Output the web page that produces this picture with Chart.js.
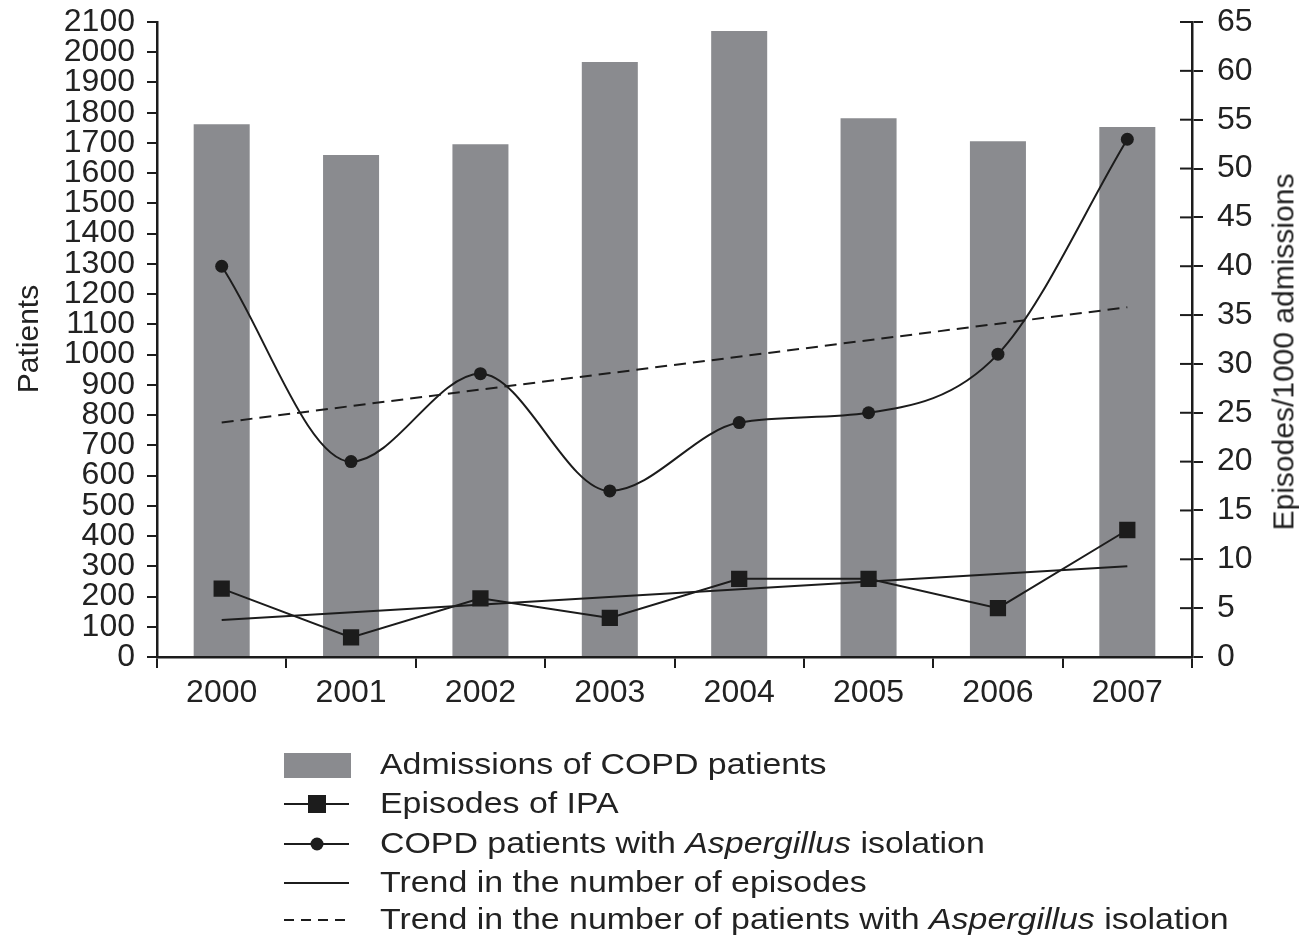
<!DOCTYPE html>
<html>
<head>
<meta charset="utf-8">
<script src="https://cdn.jsdelivr.net/npm/chart.js@4.4.1/dist/chart.umd.min.js"></script>
<style>
  body { margin: 0; background: #fff; }
  #wrap { position: relative; width: 1299px; height: 938px; font-family: 'Liberation Sans', Arial, sans-serif; color: #222; }
  canvas { position: absolute; left: 0; top: 0; }
  .ytitle { position: absolute; font-size: 30px; white-space: nowrap; transform-origin: center; }
  .leg { position: absolute; left: 380px; font-size: 30px; white-space: nowrap; transform: scaleX(1.13); transform-origin: left center; line-height: 30px; margin-top: -16px; }
  svg { position: absolute; left: 0; top: 0; }
</style>
</head>
<body>
<div id="wrap">
  <canvas id="chart" width="1299" height="938"></canvas>
  <div class="ytitle" id="tl">Patients</div>
  <div class="ytitle" id="tr">Episodes/1000 admissions</div>
  <svg width="400" height="938">
    <rect x="284" y="753" width="67" height="25" fill="#8a8b8f"/>
    <line x1="284" y1="804" x2="349" y2="804" stroke="#1c1c1c" stroke-width="2"/>
    <rect x="308" y="795" width="18" height="18" fill="#1c1c1c"/>
    <line x1="284" y1="844" x2="349" y2="844" stroke="#1c1c1c" stroke-width="2"/>
    <circle cx="317" cy="844" r="6.5" fill="#1c1c1c"/>
    <line x1="284" y1="883" x2="349" y2="883" stroke="#1c1c1c" stroke-width="2"/>
    <line x1="284" y1="920" x2="349" y2="920" stroke="#1c1c1c" stroke-width="2" stroke-dasharray="10 7"/>
  </svg>
  <div class="leg" style="top:765px">Admissions of COPD patients</div>
  <div class="leg" style="top:804px">Episodes of IPA</div>
  <div class="leg" style="top:844px">COPD patients with <i>Aspergillus</i> isolation</div>
  <div class="leg" style="top:883px">Trend in the number of episodes</div>
  <div class="leg" style="top:920px">Trend in the number of patients with <i>Aspergillus</i> isolation</div>
</div>
<script>
const years = ['2000', '2001', '2002', '2003', '2004', '2005', '2006', '2007'];
const admissions = [1762, 1660, 1696, 1968, 2070, 1782, 1706, 1753];
const ipaEpisodes = [7, 2, 6, 4, 8, 8, 5, 13];
const aspergillusPatients = [40, 20, 29, 17, 24, 25, 31, 53];
// trend lines: only end points
const episodeTrend = [3.8, null, null, null, null, null, null, 9.3];
const aspergillusTrend = [24, null, null, null, null, null, null, 35.8];

const ink = '#1c1c1c';

// place the rotated axis titles
function placeTitle(id, cx, cy) {
  const el = document.getElementById(id);
  el.style.left = (cx - el.offsetWidth / 2) + 'px';
  el.style.top = (cy - el.offsetHeight / 2) + 'px';
  el.style.transform = 'rotate(-90deg)';
}
placeTitle('tl', 28, 339);
placeTitle('tr', 1283, 352);

// right axis ticks cross the axis line
const innerTicks = {
  id: 'innerTicks',
  afterDraw(chart) {
    const s = chart.scales.y1;
    const ctx = chart.ctx;
    ctx.save();
    ctx.strokeStyle = ink;
    ctx.lineWidth = 2;
    s.ticks.forEach(t => {
      const y = s.getPixelForValue(t.value);
      ctx.beginPath();
      ctx.moveTo(s.left - 12, y);
      ctx.lineTo(s.left, y);
      ctx.stroke();
    });
    ctx.restore();
  }
};

function fixY(width) {
  return s => {
    s.width = width;
    s.paddingTop = 22;
    s.paddingBottom = 0;
  };
}

Chart.defaults.font.family = "'Liberation Sans', Arial, sans-serif";
Chart.defaults.font.size = 32;
Chart.defaults.color = '#222';

new Chart(document.getElementById('chart').getContext('2d'), {
  type: 'bar',
  data: {
    labels: years,
    datasets: [
      {
        label: 'Admissions of COPD patients',
        data: admissions,
        backgroundColor: '#8a8b8f',
        yAxisID: 'y',
        barPercentage: 0.433,
        categoryPercentage: 1,
        order: 5
      },
      {
        type: 'line',
        label: 'Episodes of IPA',
        data: ipaEpisodes,
        yAxisID: 'y1',
        borderColor: ink,
        borderWidth: 2,
        pointStyle: 'rect',
        pointRadius: 11.5,
        pointBackgroundColor: ink,
        pointBorderWidth: 0,
        tension: 0,
        order: 1
      },
      {
        type: 'line',
        label: 'COPD patients with Aspergillus isolation',
        data: aspergillusPatients,
        yAxisID: 'y1',
        borderColor: ink,
        borderWidth: 2,
        pointRadius: 6.5,
        pointBackgroundColor: ink,
        pointBorderWidth: 0,
        cubicInterpolationMode: 'monotone',
        order: 1
      },
      {
        type: 'line',
        label: 'Trend in the number of episodes',
        data: episodeTrend,
        yAxisID: 'y1',
        borderColor: ink,
        borderWidth: 2,
        pointRadius: 0,
        spanGaps: true,
        order: 2
      },
      {
        type: 'line',
        label: 'Trend in the number of patients with Aspergillus isolation',
        data: aspergillusTrend,
        yAxisID: 'y1',
        borderColor: ink,
        borderWidth: 2,
        borderDash: [12, 7],
        pointRadius: 0,
        spanGaps: true,
        order: 2
      }
    ]
  },
  options: {
    responsive: false,
    animation: false,
    layout: { padding: 0 },
    plugins: { legend: { display: false }, tooltip: { enabled: false } },
    scales: {
      x: {
        offset: true,
        grid: { drawOnChartArea: false, offset: true, tickLength: 11, color: ink, lineWidth: 2 },
        border: { color: ink, width: 2.5 },
        ticks: { padding: 6, maxRotation: 0 },
        afterFit: s => { s.height = 938 - 657; }
      },
      y: {
        position: 'left',
        min: 0,
        max: 2100,
        grid: { drawOnChartArea: false, tickLength: 10, color: ink, lineWidth: 2 },
        border: { color: ink, width: 2.5 },
        ticks: { stepSize: 100, autoSkip: false, padding: 12, callback: v => String(v) },
        afterFit: fixY(157)
      },
      y1: {
        position: 'right',
        min: 0,
        max: 65,
        grid: { drawOnChartArea: false, tickLength: 11, color: ink, lineWidth: 2 },
        border: { color: ink, width: 2.5 },
        ticks: { stepSize: 5, autoSkip: false, padding: 14 },
        afterFit: fixY(1299 - 1192)
      }
    }
  },
  plugins: [innerTicks]
});
</script>
</body>
</html>
